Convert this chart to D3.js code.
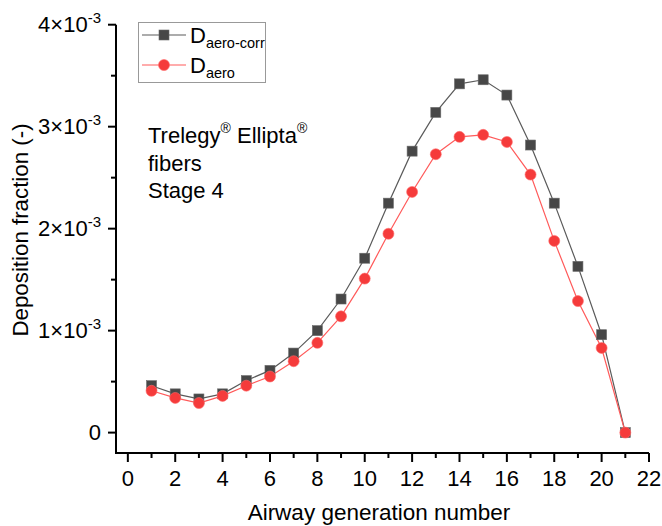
<!DOCTYPE html>
<html>
<head>
<meta charset="utf-8">
<script src="https://cdn.jsdelivr.net/npm/d3@7"></script>
<style>
  body { margin: 0; background: #fff; }
  text { font-family: Arial, "Liberation Sans", sans-serif; fill: #000; }
</style>
</head>
<body>
<div id="chart-area"></div>
<script>
const generations = [1, 2, 3, 4, 5, 6, 7, 8, 9, 10, 11, 12, 13, 14, 15, 16, 17, 18, 19, 20, 21];
// values in units of 1e-3
const daeroCorr = [0.46, 0.38, 0.33, 0.38, 0.51, 0.61, 0.78, 1.00, 1.31, 1.71, 2.25, 2.76, 3.14, 3.42, 3.46, 3.31, 2.82, 2.25, 1.63, 0.96, 0.00];
const daero = [0.41, 0.34, 0.29, 0.36, 0.46, 0.55, 0.70, 0.88, 1.14, 1.51, 1.95, 2.36, 2.73, 2.90, 2.92, 2.85, 2.53, 1.88, 1.29, 0.83, 0.00];
const xTicks = [0, 2, 4, 6, 8, 10, 12, 14, 16, 18, 20, 22];
const yTicks = [0, 1, 2, 3, 4];
const annotation = ["Trelegy® Ellipta®", "fibers", "Stage 4"];

const width = 662, height = 526;
const svg = d3.select("#chart-area")
    .append("svg")
    .attr("width", width)
    .attr("height", height);

const x = d3.scaleLinear().domain([-0.5, 22]).range([116, 649]);
const y = d3.scaleLinear().domain([-0.2, 4]).range([453, 24.7]);

// minor ticks
const xMinor = d3.range(1, 22, 2);
const yMinor = d3.range(0.5, 4, 1);

// x axis
const xAxis = svg.append("g").attr("transform", `translate(0,${y(-0.2)})`);
xAxis.append("line").attr("x1", 116).attr("x2", x(22)).attr("stroke", "#000").attr("stroke-width", 2);
xAxis.selectAll(".maj").data(xTicks).enter().append("line")
    .attr("x1", d => x(d)).attr("x2", d => x(d)).attr("y1", 0).attr("y2", 9)
    .attr("stroke", "#000").attr("stroke-width", 2);
xAxis.selectAll(".min").data(xMinor).enter().append("line")
    .attr("x1", d => x(d)).attr("x2", d => x(d)).attr("y1", 0).attr("y2", 5)
    .attr("stroke", "#000").attr("stroke-width", 2);
xAxis.selectAll(".lab").data(xTicks).enter().append("text")
    .attr("x", d => x(d)).attr("y", 33)
    .attr("text-anchor", "middle").attr("font-size", 22)
    .text(d => d);

// y axis
const yAxis = svg.append("g").attr("transform", "translate(116,0)");
yAxis.append("line").attr("y1", y(-0.2) + 1).attr("y2", y(4)).attr("stroke", "#000").attr("stroke-width", 2);
yAxis.selectAll(".maj").data(yTicks).enter().append("line")
    .attr("y1", d => y(d)).attr("y2", d => y(d)).attr("x1", 0).attr("x2", -8)
    .attr("stroke", "#000").attr("stroke-width", 2);
yAxis.selectAll(".min").data(yMinor).enter().append("line")
    .attr("y1", d => y(d)).attr("y2", d => y(d)).attr("x1", 0).attr("x2", -5)
    .attr("stroke", "#000").attr("stroke-width", 2);
const yLab = yAxis.selectAll(".lab").data(yTicks).enter().append("text")
    .attr("x", -15).attr("y", d => y(d) + 7)
    .attr("text-anchor", "end").attr("font-size", 22);
yLab.each(function(d) {
    const t = d3.select(this);
    if (d === 0) { t.text("0"); return; }
    t.append("tspan").text(d + "×10");
    t.append("tspan").attr("font-size", 15).attr("dy", -9).text("-3");
});

// axis titles
svg.append("text")
    .attr("x", x(10.6)).attr("y", 520)
    .attr("text-anchor", "middle").attr("font-size", 22.5)
    .text("Airway generation number");
svg.append("text")
    .attr("transform", "translate(28,230) rotate(-90)")
    .attr("text-anchor", "middle").attr("font-size", 22.3)
    .text("Deposition fraction (-)");

// lines and markers
const line = d3.line().x((d, i) => x(generations[i])).y(d => y(d));

svg.append("path").datum(daeroCorr)
    .attr("d", line).attr("fill", "none").attr("stroke", "#5a5a5a").attr("stroke-width", 1.2);
svg.append("path").datum(daero)
    .attr("d", line).attr("fill", "none").attr("stroke", "#ff5a5a").attr("stroke-width", 1.2);

svg.selectAll(".sq").data(daeroCorr).enter().append("rect")
    .attr("x", (d, i) => x(generations[i]) - 5).attr("y", d => y(d) - 5)
    .attr("width", 10).attr("height", 10)
    .attr("fill", "#474747").attr("stroke", "#6a6a6a").attr("stroke-width", 0.6);
svg.selectAll(".ci").data(daero).enter().append("circle")
    .attr("cx", (d, i) => x(generations[i])).attr("cy", d => y(d)).attr("r", 5.5)
    .attr("fill", "#f53b3b").attr("stroke", "#ff6a6a").attr("stroke-width", 0.6);

// legend
const legend = svg.append("g");
legend.append("rect").attr("x", 138.5).attr("y", 22.5).attr("width", 127).attr("height", 60)
    .attr("fill", "#fff").attr("stroke", "#999").attr("stroke-width", 1);
const legendItems = [
    { sub: "aero-corr", color: "#5a5a5a", shape: "square" },
    { sub: "aero", color: "#ff5a5a", shape: "circle" }
];
legendItems.forEach((it, i) => {
    const cy = 35 + i * 30;
    legend.append("line").attr("x1", 142).attr("x2", 186).attr("y1", cy).attr("y2", cy)
        .attr("stroke", it.color).attr("stroke-width", 1.2);
    if (it.shape === "square") {
        legend.append("rect").attr("x", 159).attr("y", cy - 5).attr("width", 10).attr("height", 10)
            .attr("fill", "#474747").attr("stroke", "#6a6a6a").attr("stroke-width", 0.6);
    } else {
        legend.append("circle").attr("cx", 164).attr("cy", cy).attr("r", 5.5)
            .attr("fill", "#f53b3b").attr("stroke", "#ff6a6a").attr("stroke-width", 0.6);
    }
    const t = legend.append("text").attr("x", 190).attr("y", cy + 8).attr("font-size", 22);
    t.append("tspan").text("D");
    t.append("tspan").attr("font-size", 14.5).attr("dy", 5).text(it.sub);
});

// annotation
const ann = svg.append("text").attr("font-size", 22);
annotation.forEach((s, i) => {
    const tt = ann.append("tspan").attr("x", 148).attr("y", 143 + i * 27.5);
    if (i === 0) {
        tt.append("tspan").text("Trelegy");
        tt.append("tspan").attr("font-size", 14).attr("dy", -10).text("®");
        tt.append("tspan").attr("dy", 10).text(" Ellipta");
        tt.append("tspan").attr("font-size", 14).attr("dy", -10).text("®");
    } else {
        tt.text(s);
    }
});
</script>
</body>
</html>
